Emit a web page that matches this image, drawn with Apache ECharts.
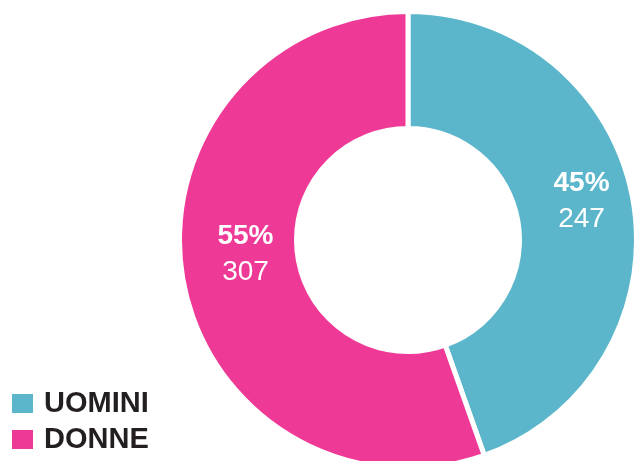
<!DOCTYPE html>
<html>
<head>
<meta charset="utf-8">
<script src="https://cdn.jsdelivr.net/npm/echarts@6/dist/echarts.min.js"></script>
<style>
  html, body { margin: 0; padding: 0; background: #fff; }
  #main { width: 634px; height: 461px; }
</style>
</head>
<body>
<div id="main"></div>
<script>
var categories = ['UOMINI', 'DONNE'];
var values = [247, 307];
var percents = ['45%', '55%'];
var colors = ['#5BB6CB', '#EE3996'];
var labelOffsets = [[3, -9], [8, -15]];

var myChart = echarts.init(document.getElementById('main'));

var seriesData = categories.map(function (name, i) {
    return {
        name: name,
        value: values[i],
        itemStyle: { color: colors[i] },
        label: { offset: labelOffsets[i] }
    };
});

// one legend box per entry, stacked
var legends = categories.map(function (name, i) {
    return {
        orient: 'vertical',
        left: 10,
        top: 389 + i * 36,
        padding: 0,
        icon: 'rect',
        itemWidth: 23,
        itemHeight: 21,
        selectedMode: false,
        data: [name],
        textStyle: {
            fontFamily: 'Arial, "Liberation Sans", sans-serif',
            fontSize: 29,
            fontWeight: 'bold',
            color: '#231F20',
            lineHeight: 21,
            padding: [0, 0, 0, 5]
        }
    };
});

var option = {
    animation: false,
    legend: legends,
    series: [{
        type: 'pie',
        center: [408, 240],
        radius: [111.5, 228.5],
        startAngle: 90,
        clockwise: true,
        avoidLabelOverlap: false,
        itemStyle: { borderColor: '#fff', borderWidth: 5 },
        label: {
            position: 'inside',
            formatter: function (p) {
                return '{b|' + percents[p.dataIndex] + '}\n{n|' + p.value + '}';
            },
            rich: {
                b: { fontFamily: 'Arial, "Liberation Sans", sans-serif', fontSize: 28, fontWeight: 'bold', color: '#fff', lineHeight: 36 },
                n: { fontFamily: 'Arial, "Liberation Sans", sans-serif', fontSize: 28, color: '#fff', lineHeight: 36 }
            }
        },
        labelLine: { show: false },
        emphasis: { disabled: true },
        data: seriesData
    }]
};

myChart.setOption(option);
</script>
</body>
</html>
